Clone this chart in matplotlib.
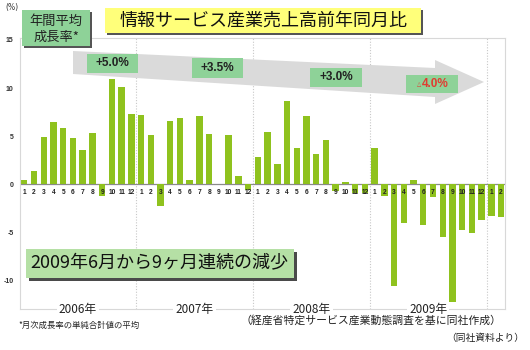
import matplotlib
matplotlib.use('Agg')
import matplotlib.pyplot as plt
from matplotlib.patches import Rectangle, Polygon
import numpy as np

# ---- data ----
month_labels = [1, 2, 3, 4, 5, 6, 7, 8, 9, 10, 11, 12,
                1, 2, 3, 4, 5, 6, 7, 8, 9, 10, 11, 12,
                1, 2, 3, 4, 5, 6, 7, 8, 9, 10, 11, 12,
                1, 2, 3, 4, 5, 6, 7, 8, 9, 10, 11, 12,
                1, 2]
growth_2006 = [0.5, 1.4, 4.9, 6.5, 5.9, 4.8, 3.6, 5.3, -1.2, 10.9, 10.1, 7.3]
growth_2007 = [7.2, 5.1, -2.3, 6.6, 6.9, 0.5, 7.1, 5.2, 0.0, 5.1, 0.9, -0.6]
growth_2008 = [2.8, 5.4, 2.1, 8.7, 3.8, 7.1, 3.2, 4.6, -0.7, 0.2, -0.9, -0.9]
growth_2009 = [3.8, -1.2, -10.6, -4.0, 0.4, -4.2, -1.3, -5.5, -12.2, -4.7, -5.1, -3.7]
growth_2010 = [-3.3, -3.4]
values = growth_2006 + growth_2007 + growth_2008 + growth_2009 + growth_2010
year_labels = ['2006年', '2007年', '2008年', '2009年']
year_centers = [5.5, 17.5, 29.5, 41.5]
year_bounds = [11.5, 23.5, 35.5, 47.5]
avg_labels = ['+5.0%', '+3.5%', '+3.0%', '4.0%']
yticks = [15, 10, 5, 0, -5, -10]

W, H = 530, 350
JP = 'Noto Sans CJK JP'
fig = plt.figure(figsize=(5.3, 3.5), dpi=100)
fig.patch.set_facecolor('white')

def fx(x):
    return x / W

def fy(y):
    return 1 - y / H

ax = fig.add_axes([fx(20), fy(309), (505 - 20) / W, (309 - 38) / H])
x = np.arange(len(values))
ax.bar(x, values, width=0.66, color='#8FC21E', zorder=2)
ax.axhline(0, color='#8a8a8a', lw=0.9, zorder=1)
for xv in year_bounds:
    ax.axvline(xv, color='#c8c8c8', lw=0.8, ls=(0, (1, 1.5)), zorder=0)
ax.set_xlim(-0.44, 49.4)
ax.set_ylim(-12.95, 15.2)
ax.set_yticks(yticks)
ax.set_yticklabels([str(t) for t in yticks], fontsize=5, fontweight='bold',
                   color='#333333', family='Liberation Sans')
ax.tick_params(axis='y', length=0, pad=4.5)
ax.set_xticks([])
for s in ax.spines.values():
    s.set_color('#d8d8d8')
    s.set_linewidth(0.8)

for i, m in enumerate(month_labels):
    ax.text(i, -0.8, str(m), ha='center', va='center', fontsize=4.8,
            fontweight='bold', family='Liberation Sans', color='#222222', zorder=3)

for c, lab in zip(year_centers, year_labels):
    ax.text(c, -12.95, lab, ha='center', va='center', fontsize=8.5, family=JP,
            color='#222222', clip_on=False, zorder=4,
            bbox=dict(fc='white', ec='none', pad=1.5))

def rect(x0, y0, x1, y1, fc, shadow=None, off=2, z=5):
    if shadow:
        fig.add_artist(Rectangle((fx(x0 + off), fy(y1 + off)), (x1 - x0) / W, (y1 - y0) / H,
                                 transform=fig.transFigure, fc=shadow, ec='none', zorder=z - 0.1))
    fig.add_artist(Rectangle((fx(x0), fy(y1)), (x1 - x0) / W, (y1 - y0) / H,
                             transform=fig.transFigure, fc=fc, ec='none', zorder=z))

# (%) label
fig.text(fx(12), fy(7.5), '(%)', ha='center', va='center', fontsize=5.5, color='#333333')

# title box
rect(105, 8, 421, 33, '#FFFF7A', shadow='#555555')
fig.text(fx(263), fy(21), '情報サービス産業売上高前年同月比', ha='center', va='center',
         fontsize=13, family=JP, color='#111111', zorder=6)

# annual avg box
rect(22, 10, 90, 46, '#8ED298', shadow='#555555')
fig.text(fx(56), fy(21), '年間平均', ha='center', va='center', fontsize=9.5, family=JP,
         color='#222222', zorder=6)
fig.text(fx(56), fy(37.5), '成長率*', ha='center', va='center', fontsize=9.5, family=JP,
         color='#222222', zorder=6)

# arrow
pts = [(73, 51), (435, 68), (435, 60), (484, 82), (435, 104), (435, 97), (73, 74)]
fig.add_artist(Polygon([(fx(a), fy(b)) for a, b in pts], closed=True,
                       transform=fig.transFigure, fc='#dadada', ec='none', zorder=3))

boxes = [(87, 54, 138, 73), (192, 58, 243, 78), (310, 68, 362, 87), (406, 75, 458, 93)]
for (x0, y0, x1, y1), lab in zip(boxes, avg_labels):
    rect(x0, y0, x1, y1, '#8ED298', z=4)
    cx, cy = (x0 + x1) / 2, (y0 + y1) / 2
    if lab.startswith('+'):
        fig.text(fx(cx), fy(cy), lab, ha='center', va='center', fontsize=8.5,
                 fontweight='bold', family='Liberation Sans', color='#222222', zorder=6)
    else:
        fig.text(fx(cx + 3), fy(cy), lab, ha='center', va='center', fontsize=8.5,
                 fontweight='bold', family='Liberation Sans', color='#E03C31', zorder=6)
        fig.text(fx(cx - 12.5), fy(cy - 0.5), '△', ha='center', va='center', fontsize=4,
                 family='DejaVu Sans', color='#E03C31', zorder=6)

# big box
rect(26, 249, 294, 278, '#B5E0A5', shadow='#4a4a4a', off=3)
fig.text(fx(159), fy(263), '2009年6月から9ヶ月連続の減少', ha='center', va='center',
         fontsize=13, family=JP, color='#111111', zorder=6)

# footnotes
fig.text(fx(18), fy(325), '*月次成長率の単純合計値の平均', ha='left', va='center',
         fontsize=6, family=JP, color='#222222')
fig.text(fx(502), fy(320), '（経産省特定サービス産業動態調査を基に同社作成）', ha='right',
         va='center', fontsize=7.8, family=JP, color='#222222')
fig.text(fx(524), fy(338.5), '（同社資料より）', ha='right', va='center',
         fontsize=7, family=JP, color='#222222')

fig.savefig('out.png', dpi=100)
